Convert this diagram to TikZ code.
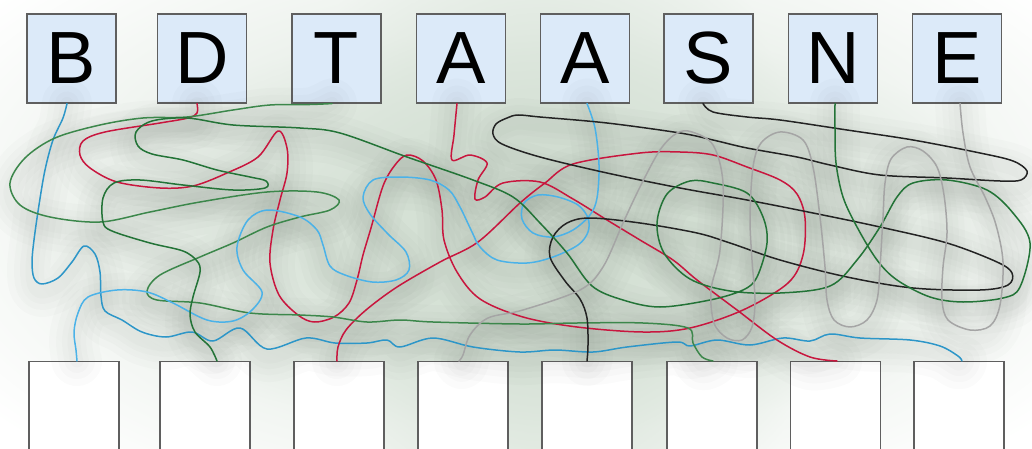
\documentclass[tikz,border=0pt]{standalone}
\usepackage{fontspec}
\setmainfont{Liberation Sans}
\usetikzlibrary{fadings}
\definecolor{boxblue}{RGB}{220,234,249}
\definecolor{boxline}{RGB}{95,95,95}
\definecolor{wash}{RGB}{212,224,212}
\definecolor{shadowc}{RGB}{60,72,60}
\definecolor{cblueA}{RGB}{45,150,200}
\definecolor{cblueB}{RGB}{75,178,232}
\definecolor{cred}{RGB}{200,22,62}
\definecolor{cgreenA}{RGB}{60,135,75}
\definecolor{cgreenB}{RGB}{35,115,55}
\definecolor{cblack}{RGB}{35,35,35}
\definecolor{cgray}{RGB}{165,165,165}
\tikzfading[name=softfade, inner color=transparent!0, outer color=transparent!100]
\tikzset{
  topbox/.style={draw=boxline, fill=boxblue, line width=1.1pt, minimum width=89pt, minimum height=89pt, inner sep=0pt, font=\fontsize{74}{74}\selectfont},
  botbox/.style={draw=boxline, fill=white, line width=1.1pt, minimum width=90pt, minimum height=100pt, inner sep=0pt, anchor=north},
  wire/.style={line width=1.5pt, line cap=round, line join=round},
  shadw/.style={draw=shadowc, line cap=round, line join=round, yshift=-8pt},
}
\begin{document}
\begin{tikzpicture}[x=1pt,y=-1pt]
\useasboundingbox (0,0) rectangle (1032,449);
\clip (0,0) rectangle (1032,449);
% background wash
\fill[wash, path fading=softfade] (520,210) ellipse [x radius=660pt, y radius=340pt];
\fill[wash, path fading=softfade] (540,230) ellipse [x radius=520pt, y radius=200pt];
\fill[wash, path fading=softfade] (545,260) ellipse [x radius=260pt, y radius=420pt];
% bottom boxes
\node[botbox] (b1) at (74,361) {};
\node[botbox] (b2) at (205,361) {};
\node[botbox] (b3) at (339,361) {};
\node[botbox] (b4) at (463,361) {};
\node[botbox] (b5) at (587,361) {};
\node[botbox] (b6) at (712,361) {};
\node[botbox] (b7) at (835.5,361) {};
\node[botbox] (b8) at (959,361) {};
% top boxes
\node[topbox] (t1) at (71.5,58.5) {B};
\node[topbox] (t2) at (202,58.5) {D};
\node[topbox] (t3) at (336.5,58.5) {T};
\node[topbox] (t4) at (461,58.5) {A};
\node[topbox] (t5) at (585,58.5) {A};
\node[topbox] (t6) at (708.5,58.5) {S};
\node[topbox] (t7) at (833,58.5) {N};
\node[topbox] (t8) at (957,58.5) {E};
% end points
\coordinate (sB) at ([xshift=-4.5pt]t1.south);
\coordinate (sD) at ([xshift=-5pt]t2.south);
\coordinate (sT) at ([xshift=-4.5pt]t3.south);
\coordinate (sA) at ([xshift=-4pt]t4.south);
\coordinate (sAA) at ([xshift=2pt]t5.south);
\coordinate (sS) at ([xshift=-5.5pt]t6.south);
\coordinate (sN) at ([xshift=2pt]t7.south);
\coordinate (sE) at ([xshift=3pt]t8.south);
\coordinate (eAA) at ([xshift=3pt]b1.north);
\coordinate (eN) at ([xshift=12pt]b2.north);
\coordinate (eD) at ([xshift=-2pt]b3.north);
\coordinate (eE) at ([xshift=-4pt]b4.north);
\coordinate (eS) at (b5.north);
\coordinate (eT) at ([xshift=1pt]b6.north);
\coordinate (eA) at ([xshift=1.5pt]b7.north);
\coordinate (eB) at ([xshift=3pt]b8.north);
% wires
\def\wireB{plot[smooth,tension=0.55] coordinates {(sB) (63,118) (53,140) (45,170) (39,205) (34,240) (32,262) (34,278) (42,284) (58,278) (72,262) (84,246) (95,254) (100,272) (101,296) (105,311) (122,320) (142,332) (166,337) (192,332) (213,341) (240,328) (267,349) (306,338) (335,343) (367,343) (387,340) (400,347) (433,338) (473,347) (520,352) (555,350) (593,352) (627,347) (677,342) (690,346) (717,340) (750,345) (783,338) (810,341) (830,334) (860,338) (910,340) (940,346) (958,356) (eB)}}
\def\wireD{plot[smooth,tension=0.55] coordinates {(sD) (197,113) (188,118) (160,123) (105,132) (83,141) (80,155) (90,168) (117,182) (160,188) (193,186) (227,173) (258,157) (278,131) (287,148) (287,173) (280,200) (273,230) (270,263) (279,295) (298,315) (314,322) (334,317) (349,303) (357,280) (363,255) (371,228) (383,186) (395,165) (407,155) (423,161) (436,180) (442,210) (444,240) (457,272) (480,299) (523,317) (577,327) (643,332) (690,328) (743,310) (788,283) (803,255) (805,218) (797,194) (780,180) (747,167) (713,155) (680,152) (640,153) (573,164) (545,183) (520,203) (478,242) (440,262) (397,287) (366,310) (346,330) (338,347) (eD)}}
\def\wireT{plot[smooth,tension=0.55] coordinates {(sT) (310,104.5) (270,105) (233,110) (187,117) (143,118) (100,125) (55,138) (25,158) (10,183) (20,205) (50,217) (100,222) (150,212) (200,202) (267,192) (317,192) (339,200) (330,210) (300,217) (267,227) (233,243) (200,257) (160,275) (147,291) (157,300) (200,303) (250,313) (300,315) (333,317) (367,322) (400,320) (433,322) (520,324) (577,323) (643,323) (688,328) (693,343) (702,357) (eT)}}
\def\wireA{plot[smooth,tension=0.55] coordinates {(sA) (454,135) (452,160) (470,155) (487,163) (478,180) (475,199) (485,197) (503,183) (540,182) (573,199) (607,220) (640,240) (673,260) (697,280) (737,310) (777,340) (810,357) (eA)}}
\def\wireAA{plot[smooth,tension=0.55] coordinates {(sAA) (595,128) (599,165) (597,198) (590,215) (573,230) (553,237) (533,233) (522,219) (524,203) (538,195) (558,197) (578,205) (588,218) (588,232) (578,245) (553,257) (527,263) (497,260) (480,247) (472,232) (460,207) (449,190) (430,180) (400,177) (373,180) (363,197) (370,214) (388,234) (406,252) (409,270) (396,280) (372,282) (345,275) (330,266) (323,245) (317,230) (300,217) (268,210) (248,220) (237,247) (243,270) (262,292) (252,310) (233,321) (207,320) (173,303) (147,292) (117,290) (88,297) (78,313) (74,332) (76,350) (eAA)}}
\def\wireS{plot[smooth,tension=0.55] coordinates {(sS) (713,112) (747,117) (780,120) (847,130) (913,140) (980,153) (1013,161) (1027,171) (1021,180) (1000,181) (947,178) (880,175) (830,165) (797,157) (747,148) (713,140) (680,133) (607,123) (540,117) (518,115) (507,118) (496,124) (493,134) (502,144) (540,157) (607,173) (680,188) (747,200) (813,213) (880,227) (947,243) (997,262) (1012,273) (1008,285) (980,290) (913,288) (847,277) (780,260) (730,243) (697,233) (640,223) (590,218) (567,223) (553,237) (550,257) (565,281) (580,299) (587,318) (588,345) (eS)}}
\def\wireN{plot[smooth,tension=0.55] coordinates {(sN) (835,130) (836,163) (843,197) (857,227) (877,260) (897,280) (930,297) (963,302) (1003,298) (1020,287) (1030,243) (1013,213) (987,190) (947,180) (913,183) (897,197) (880,227) (857,260) (830,286) (780,293) (730,291) (690,279) (664,253) (657,223) (667,194) (690,181) (713,183) (747,193) (763,217) (767,243) (757,277) (743,290) (710,300) (660,307) (623,300) (592,286) (567,253) (540,223) (513,197) (473,180) (407,157) (340,133) (300,128) (233,125) (187,118) (152,121) (136,132) (138,146) (152,154) (183,160) (217,170) (250,177) (266,181) (265,188) (233,190) (183,185) (140,180) (114,183) (103,198) (103,222) (112,231) (150,243) (183,251) (197,261) (200,272) (193,297) (190,315) (195,332) (210,347) (eN)}}
\def\wireE{plot[smooth,tension=0.55] coordinates {(sE) (963,133) (970,167) (985,197) (996,225) (1003,262) (1000,305) (990,326) (970,330) (948,320) (942,300) (943,267) (947,233) (944,195) (937,167) (923,151) (907,147) (891,159) (885,183) (883,217) (880,267) (877,300) (867,320) (850,327) (834,320) (827,300) (825,267) (820,217) (813,167) (803,140) (780,132) (761,143) (753,167) (750,217) (752,260) (755,300) (752,327) (742,340) (727,338) (714,323) (711,290) (720,250) (723,183) (713,145) (692,132) (677,133) (660,150) (640,187) (623,223) (603,267) (580,290) (523,310) (488,318) (470,335) (463,355) (eE)}}
% soft shadows under the wires
\foreach \w in {\wireB,\wireD,\wireT,\wireA,\wireAA,\wireS,\wireN,\wireE}{
  \draw[shadw, line width=50pt, opacity=0.021] \w;
  \draw[shadw, line width=36pt, opacity=0.021] \w;
  \draw[shadw, line width=24pt, opacity=0.021] \w;
  \draw[shadw, line width=13pt, opacity=0.021] \w;
}
% the wires
\draw[wire, cblueA] \wireB;
\draw[wire, cred] \wireD;
\draw[wire, cgreenA] \wireT;
\draw[wire, cred] \wireA;
\draw[wire, cblueB] \wireAA;
\draw[wire, cblack] \wireS;
\draw[wire, cgreenB] \wireN;
\draw[wire, cgray] \wireE;
\end{tikzpicture}
\end{document}
